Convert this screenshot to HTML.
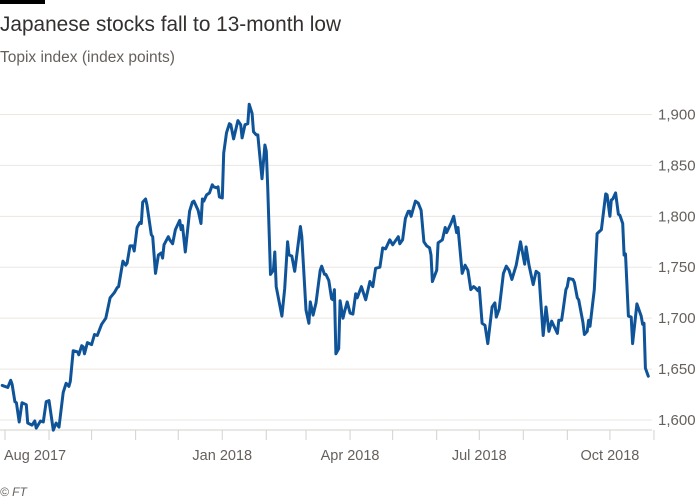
<!DOCTYPE html>
<html><head><meta charset="utf-8">
<style>
body{margin:0;background:#fff;}
svg{display:block;font-family:"Liberation Sans",sans-serif;}
</style></head>
<body>
<svg id="chart" width="700" height="500" viewBox="0 0 700 500">
<rect x="0" y="0" width="45" height="4" fill="#000"/>
<text x="0" y="31" font-size="20.8" fill="#33302e">Japanese stocks fall to 13-month low</text>
<text x="0" y="62" font-size="15.5" fill="#66605c">Topix index (index points)</text>
<g id="grid"></g>
<g id="yaxis"></g>
<g id="xaxis"></g>
<g id="series"></g>
<text x="0" y="496" font-size="12" font-style="italic" fill="#66605c">© FT</text>
</svg>
<script>
const yTicks=[1600,1650,1700,1750,1800,1850,1900];
const yTickLabels=["1,600","1,650","1,700","1,750","1,800","1,850","1,900"];
const monthTickDays=[0,31,61,92,122,153,184,212,243,273,304,334,365,396,426,457];
const xLabelDays=[0,153,243,334,426];
const xLabels=["Aug 2017","Jan 2018","Apr 2018","Jul 2018","Oct 2018"];
const days=[-2,2,4,5,7,8,10,12,15,16,19,21,22,25,27,29,31,34,36,38,41,43,45,46,48,51,52,54,55,56,58,61,63,65,68,71,74,77,79,80,83,85,86,88,90,91,93,95,96,97,99,100,103,104,106,108,110,111,112,115,116,118,120,123,124,125,127,130,132,133,136,138,139,140,142,144,146,147,149,150,151,153,154,156,158,159,161,164,166,167,169,171,172,174,175,177,178,181,183,184,185,187,189,190,191,195,197,199,200,202,204,208,209,212,214,215,217,219,222,223,225,226,228,230,231,232,233,235,236,238,239,241,243,245,247,248,251,254,257,259,261,264,266,268,271,273,277,278,280,282,284,285,286,289,291,293,295,297,299,300,301,304,305,308,310,311,314,316,318,319,322,324,326,328,330,331,333,334,336,338,340,343,345,346,348,351,353,355,357,360,363,366,367,369,372,374,376,377,379,381,383,385,389,390,392,393,395,396,397,400,401,403,404,407,408,410,411,412,415,417,420,423,424,426,427,428,430,432,433,435,436,437,439,441,442,445,448,449,450,451,453];
const values=[1634,1632,1639,1635,1618,1617,1598,1617,1615,1597,1595,1599,1592,1599,1598,1618,1619,1590,1597,1593,1627,1636,1633,1638,1668,1667,1664,1673,1672,1665,1676,1674,1684,1683,1694,1700,1720,1725,1730,1731,1756,1752,1754,1771,1771,1766,1789,1794,1793,1814,1817,1811,1782,1780,1744,1762,1764,1759,1772,1780,1777,1773,1787,1796,1787,1791,1765,1805,1814,1815,1806,1793,1817,1815,1821,1823,1831,1829,1828,1829,1819,1818,1862,1882,1891,1890,1876,1894,1890,1877,1890,1891,1910,1901,1883,1880,1880,1837,1870,1864,1829,1743,1747,1765,1731,1702,1729,1775,1762,1761,1746,1790,1780,1708,1695,1716,1703,1715,1747,1751,1743,1743,1737,1719,1718,1728,1665,1670,1717,1700,1706,1716,1705,1704,1724,1720,1731,1718,1736,1731,1749,1750,1769,1768,1777,1772,1780,1773,1777,1798,1805,1805,1800,1815,1813,1806,1775,1771,1769,1762,1736,1747,1774,1777,1789,1784,1793,1800,1784,1789,1744,1752,1747,1728,1731,1730,1727,1730,1695,1693,1675,1711,1715,1701,1709,1744,1751,1747,1738,1752,1775,1753,1770,1752,1733,1746,1744,1723,1683,1711,1687,1697,1685,1698,1698,1708,1728,1731,1739,1738,1735,1720,1718,1696,1684,1687,1698,1692,1728,1783,1787,1822,1821,1800,1816,1817,1823,1802,1801,1793,1762,1763,1702,1701,1675,1714,1702,1694,1695,1651,1643];

const NS="http://www.w3.org/2000/svg";
function xS(d){return 5+d*1.42;}
function yS(v){return 114.5+(1900-v)*1.0183;}
function mk(tag,attrs,parent){const e=document.createElementNS(NS,tag);for(const k in attrs)e.setAttribute(k,attrs[k]);parent.appendChild(e);return e;}
const grid=document.getElementById('grid'),ya=document.getElementById('yaxis'),xa=document.getElementById('xaxis'),se=document.getElementById('series');
yTicks.forEach((t,i)=>{
  const l=mk('line',{x1:0,x2:652,y1:yS(t),y2:yS(t),stroke:'#ece6e1','stroke-width':1},grid);
  
  
  const tx=mk('text',{x:658,y:yS(t)+5,'font-size':15,fill:'#66605c'},ya);
  tx.textContent=yTickLabels[i];
  
  
});
const ax=mk('line',{x1:0,x2:652,y1:430,y2:430,stroke:'#d6d0cb','stroke-width':1},xa);


monthTickDays.forEach(d=>{
  const t=mk('line',{x1:xS(d),x2:xS(d),y1:430,y2:440,stroke:'#d6d0cb','stroke-width':1},xa);
  
  
});
xLabelDays.forEach((d,i)=>{
  const t=mk('text',{x:i===0?xS(d)-1:xS(d),y:460,'font-size':14.5,fill:'#66605c','text-anchor':i===0?'start':'middle'},xa);
  t.textContent=xLabels[i];
  
  
});
const pts=days.map((d,i)=>xS(d).toFixed(1)+','+yS(values[i]).toFixed(1)).join(' ');
const pl=mk('polyline',{points:pts,fill:'none',stroke:'#0f5499','stroke-width':3,'stroke-linejoin':'round','stroke-linecap':'round'},se);


</script>
</body></html>
